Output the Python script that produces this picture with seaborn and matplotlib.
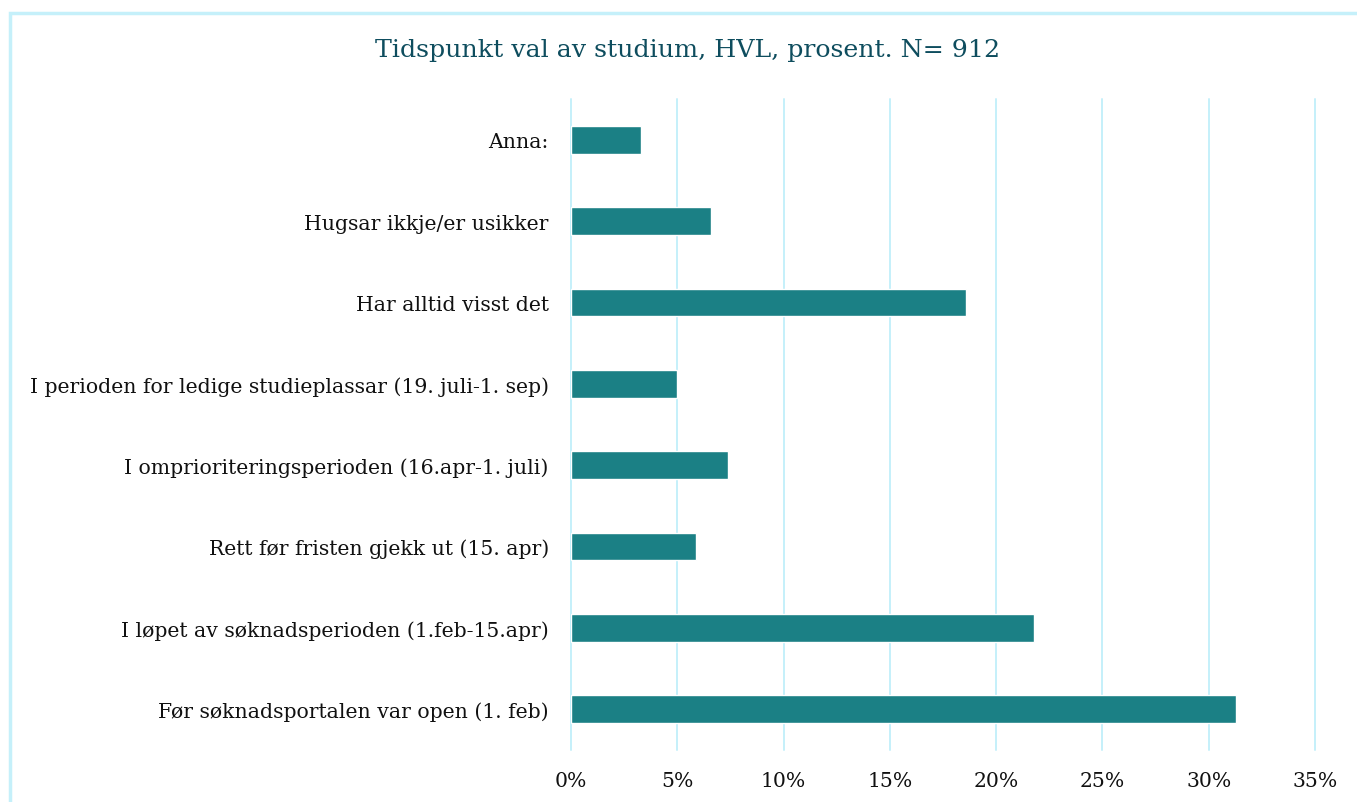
import matplotlib
matplotlib.use("Agg")
import matplotlib.pyplot as plt
import seaborn as sns
import pandas as pd
from matplotlib.patches import Rectangle
from matplotlib.ticker import FuncFormatter

categories = [
    "Anna:",
    "Hugsar ikkje/er usikker",
    "Har alltid visst det",
    "I perioden for ledige studieplassar (19. juli-1. sep)",
    "I omprioriteringsperioden (16.apr-1. juli)",
    "Rett før fristen gjekk ut (15. apr)",
    "I løpet av søknadsperioden (1.feb-15.apr)",
    "Før søknadsportalen var open (1. feb)",
]
values = [3.3, 6.6, 18.6, 5.0, 7.4, 5.9, 21.8, 31.3]
xticks = [0, 5, 10, 15, 20, 25, 30, 35]

sns.set_theme(style="white")
plt.rcParams['font.family'] = ['DejaVu Serif']

df = pd.DataFrame({"kategori": categories, "prosent": values})

fig = plt.figure(figsize=(13.57, 8.03), dpi=100)
ax = fig.add_axes([571/1357, 1-751/803, (1315-571)/1357, (751-100)/803])

sns.barplot(data=df, y="kategori", x="prosent", orient="h", color="#1B8085",
            saturation=1, width=0.34, ax=ax)

ax.set_xlim(0, 35)
ax.set_xticks(xticks)
ax.xaxis.set_major_formatter(FuncFormatter(lambda v, p: f"{int(v)}%"))
ax.grid(axis="x", color="#C5F0FA", linewidth=1.4)
for gl in ax.get_xgridlines():
    gl.set_clip_on(False)
ax.set_axisbelow(True)
for s in ax.spines.values():
    s.set_visible(False)
ax.tick_params(axis="both", length=0, labelsize=14.7, colors="#111111")
ax.tick_params(axis="x", pad=15)
ax.tick_params(axis="y", pad=16)
ax.set_xlabel("")
ax.set_ylabel("")

fig.text(688/1357, 1-50/803, "Tidspunkt val av studium, HVL, prosent. N= 912",
         ha="center", va="center", fontsize=18.2, color="#0E4D5E")

fig.patches.append(Rectangle((10/1357, -0.1), 1.2, 1-14/803+0.1, transform=fig.transFigure,
                             fill=False, edgecolor="#C5F0FA", linewidth=2.5))

fig.savefig("out.png", dpi=100)
